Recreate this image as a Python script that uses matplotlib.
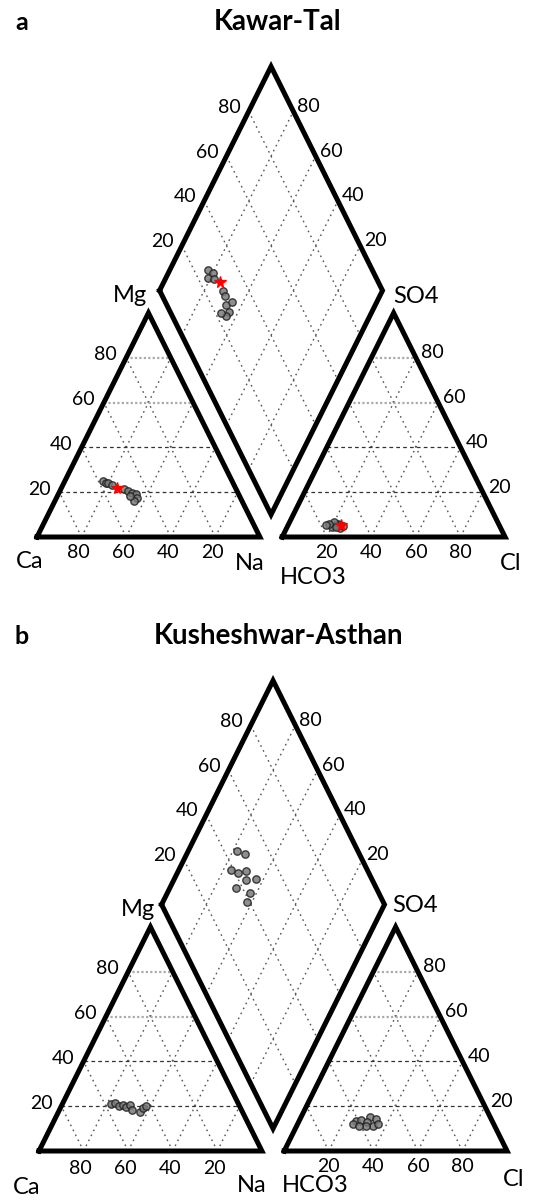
import numpy as np
import matplotlib.pyplot as plt
from matplotlib.transforms import Affine2D

plt.rcParams['font.family'] = ['Lato', 'DejaVu Sans']

# Kawar-Tal samples (fractions of total meq)
kt_ca = [0.58, 0.57, 0.56, 0.55, 0.50, 0.49, 0.475, 0.46, 0.465, 0.485, 0.49]
kt_mg = [0.25, 0.24, 0.24, 0.23, 0.215, 0.205, 0.195, 0.19, 0.175, 0.16, 0.185]
kt_na = [0.17, 0.19, 0.20, 0.22, 0.285, 0.305, 0.33, 0.35, 0.36, 0.355, 0.325]
kt_hco3 = [0.74, 0.755, 0.72, 0.73, 0.715, 0.72, 0.735, 0.70, 0.735, 0.76, 0.775]
kt_so4 = [0.05, 0.045, 0.06, 0.05, 0.055, 0.04, 0.065, 0.05, 0.045, 0.06, 0.055]
kt_cl = [0.21, 0.20, 0.22, 0.22, 0.23, 0.24, 0.20, 0.25, 0.22, 0.18, 0.17]
# highlighted (red) sample at Kawar-Tal
kt_red_cat = [0.53, 0.22, 0.25]    # Ca, Mg, Na
kt_red_an = [0.71, 0.055, 0.235]   # HCO3, SO4, Cl

# Kusheshwar-Asthan samples
ks_ca = [0.57, 0.55, 0.54, 0.52, 0.51, 0.49, 0.49, 0.46, 0.44, 0.42]
ks_mg = [0.21, 0.215, 0.20, 0.205, 0.195, 0.205, 0.185, 0.175, 0.19, 0.20]
ks_na = [0.22, 0.235, 0.26, 0.275, 0.295, 0.305, 0.325, 0.365, 0.37, 0.38]
ks_hco3 = [0.54, 0.61, 0.515, 0.585, 0.63, 0.545, 0.565, 0.52, 0.58, 0.61]
ks_so4 = [0.15, 0.135, 0.145, 0.14, 0.12, 0.11, 0.13, 0.12, 0.11, 0.11]
ks_cl = [0.31, 0.255, 0.34, 0.275, 0.25, 0.345, 0.305, 0.36, 0.31, 0.28]

ticks = [20, 40, 60, 80]

H = np.sqrt(3) / 2
GAP = 0.1
SX, SY = 222.9, 258.7   # pixels per unit


def cat_xy(na, mg):
    na, mg = np.asarray(na), np.asarray(mg)
    return na + mg / 2, mg * H


def an_xy(cl, so4):
    cl, so4 = np.asarray(cl), np.asarray(so4)
    return 1 + GAP + cl + so4 / 2, so4 * H


def dia_xy(na, a):
    na, a = np.asarray(na), np.asarray(a)
    s = 1 + GAP + a - na
    return na + s / 2, s * H


def piper(ax, x0, y0, title, tag, cat, an, red=None, lab=None, drop=15, rdrop=16):
    tr = Affine2D().scale(SX, -SY).translate(x0, y0) + ax.transData
    ty = y0 - 515
    fig.text(278 / 546, 1 - ty / 1200, title, ha='center', va='center',
             fontsize=20, fontweight='bold')
    fig.text(15 / 546, 1 - ty / 1200, tag, ha='left', va='center',
             fontsize=18, fontweight='bold')

    diag = dict(color='#555555', lw=1.0, ls=(0, (1.2, 2.8)), transform=tr)
    for k in [t / 100 for t in ticks]:
        # left triangle
        x, y = cat_xy([k, k], [0, 1 - k]); ax.plot(x, y, **diag)
        x, y = cat_xy([1 - k, 0], [0, 1 - k]); ax.plot(x, y, **diag)
        # right triangle
        x, y = an_xy([k, k], [0, 1 - k]); ax.plot(x, y, **diag)
        x, y = an_xy([1 - k, 0], [0, 1 - k]); ax.plot(x, y, **diag)
        # horizontals
        if k < 0.5:
            hs = dict(color='#333333', lw=0.9, ls=(0, (3, 2.5)), transform=tr)
        else:
            hs = dict(color='#aaaaaa', lw=1.6, ls=(0, (1, 1)), transform=tr)
        x, y = cat_xy([0, 1 - k], [k, k]); ax.plot(x, y, **hs)
        x, y = an_xy([0, 1 - k], [k, k]); ax.plot(x, y, **hs)
        # diamond
        x, y = dia_xy([k, k], [0, 1]); ax.plot(x, y, **diag)
        x, y = dia_xy([0, 1], [k, k]); ax.plot(x, y, **diag)

    edge = dict(color='black', lw=3.6, solid_joinstyle='miter', transform=tr)
    ax.plot([0, 1, 0.5, 0], [0, 0, H, 0], **edge)
    ax.plot([1 + GAP, 2 + GAP, 1.5 + GAP, 1 + GAP], [0, 0, H, 0], **edge)
    x, y = dia_xy([0, 1, 1, 0, 0], [0, 0, 1, 1, 0])
    ax.plot(x, y, **edge)

    tk = dict(xycoords=tr, textcoords='offset pixels', fontsize=14, va='center')
    for t in ticks:
        k = t / 100
        ax.annotate(str(t), xy=cat_xy(0, k), xytext=(-9, 3), ha='right', **tk)
        ax.annotate(str(t), xy=cat_xy(1 - k, 0), xytext=(-3, -drop), ha='center', **tk)
        ax.annotate(str(t), xy=an_xy(k, 0), xytext=(0, -rdrop), ha='center', **tk)
        ax.annotate(str(t), xy=an_xy(1 - k, k), xytext=(5, 5), ha='left', **tk)
        ax.annotate(str(t), xy=dia_xy(0, k), xytext=(-8, 4), ha='right', **tk)
        ax.annotate(str(t), xy=dia_xy(1 - k, 1), xytext=(4, 5), ha='left', **tk)

    lb = dict(xycoords=tr, textcoords='offset pixels', fontsize=17, va='center')
    ax.annotate('Ca', xy=(0, 0), xytext=lab['Ca'], ha='center', **lb)
    ax.annotate('Na', xy=(1, 0), xytext=lab['Na'], ha='center', **lb)
    ax.annotate('Mg', xy=(0.5, H), xytext=lab['Mg'], ha='right', **lb)
    ax.annotate('SO4', xy=(1.5 + GAP, H), xytext=lab['SO4'], ha='left', **lb)
    ax.annotate('HCO3', xy=(1 + GAP, 0), xytext=lab['HCO3'], ha='center', **lb)
    ax.annotate('Cl', xy=(2 + GAP, 0), xytext=lab['Cl'], ha='center', **lb)

    ca, mg, na = cat
    hco3, so4, cl = an
    mk = dict(ls='none', marker='o', ms=5.3, mfc='#7a7a7a', mec='#222222',
              mew=1.0, alpha=0.85, transform=tr, zorder=5)
    ax.plot(*cat_xy(na, mg), **mk)
    ax.plot(*an_xy(cl, so4), **mk)
    ax.plot(*dia_xy(na, np.asarray(so4) + np.asarray(cl)), **mk)
    if red is not None:
        rc, ra = red
        rk = dict(ls='none', marker='*', ms=8.5, color='red', transform=tr, zorder=6)
        ax.plot(*cat_xy(rc[2], rc[1]), **rk)
        ax.plot(*an_xy(ra[2], ra[1]), **rk)
        ax.plot(*dia_xy(rc[2], ra[1] + ra[2]), **rk)


fig = plt.figure(figsize=(5.46, 12), dpi=100)
ax = fig.add_axes([0, 0, 1, 1])
ax.set_xlim(0, 546)
ax.set_ylim(1200, 0)
ax.axis('off')

piper(ax, 37, 537, 'Kawar-Tal', 'a',
      (kt_ca, kt_mg, kt_na), (kt_hco3, kt_so4, kt_cl),
      red=(kt_red_cat, kt_red_an),
      lab={'Ca': (-7, -25), 'Na': (-10, -26), 'Mg': (-1, 17), 'SO4': (0, 16),
           'HCO3': (31, -41), 'Cl': (6, -26)}, drop=15, rdrop=16)
piper(ax, 39, 1151, 'Kusheshwar-Asthan', 'b',
      (ks_ca, ks_mg, ks_na), (ks_hco3, ks_so4, ks_cl),
      lab={'Ca': (-12, -37), 'Na': (-10, -34), 'Mg': (5, 17), 'SO4': (-3, 21),
           'HCO3': (31, -34), 'Cl': (7, -28)}, drop=18, rdrop=15)

fig.savefig('out.png', dpi=100, facecolor='white')
